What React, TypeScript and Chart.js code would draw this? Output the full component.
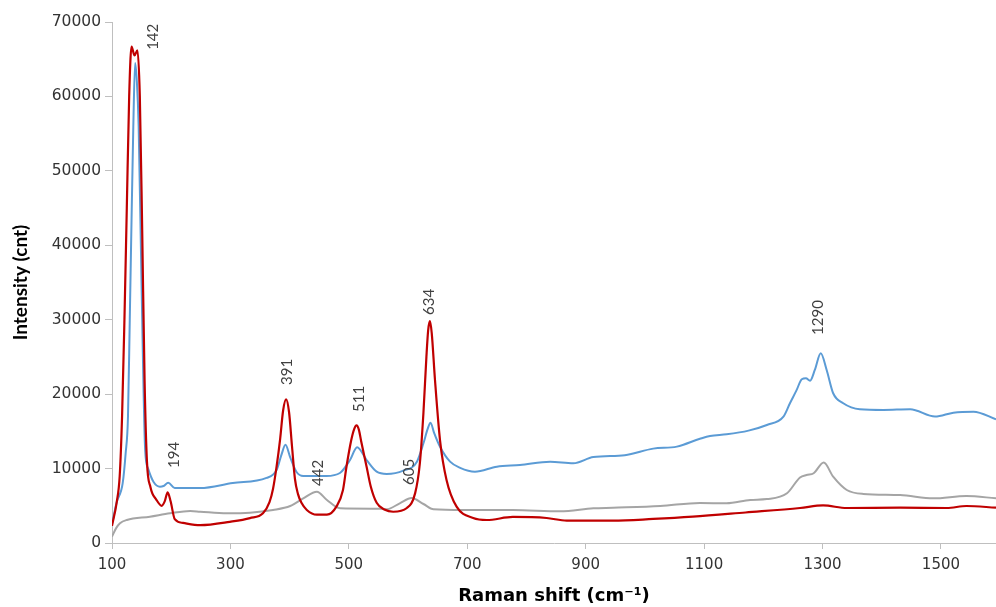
import React, { useEffect, useRef } from "react";
import { Chart, registerables } from "chart.js";

Chart.register(...registerables);

const xTicks = [100, 300, 500, 700, 900, 1100, 1300, 1500];

const redX = [100, 108, 113, 117, 121, 125, 129, 133, 138, 143, 147, 151, 155, 159, 165, 175, 184, 189, 194, 199, 206, 220, 249, 299, 333, 355, 366, 372, 378, 384, 389, 394, 399, 404, 409, 414, 420, 429, 446, 463, 479, 490, 496, 504, 509, 513, 517, 521, 530, 537, 547, 560, 575, 598, 612, 620, 626, 631, 634, 637, 640, 645.5, 654, 665, 682, 710, 733, 777, 834, 868, 946, 1014, 1081, 1170, 1262, 1301, 1341, 1431, 1510, 1543, 1593];
const redY = [2300, 5500, 9000, 17000, 30000, 45000, 60000, 66700, 65500, 66200, 60000, 42000, 22000, 11000, 7500, 5800, 5000, 5600, 6800, 5600, 3200, 2700, 2400, 2850, 3350, 4000, 5500, 7300, 10300, 14000, 17800, 19300, 17600, 13000, 8600, 6600, 5400, 4440, 3800, 3800, 4880, 7100, 10250, 13800, 15300, 15800, 15200, 13600, 10250, 7600, 5400, 4500, 4200, 4700, 6700, 10750, 17500, 25000, 28600, 29800, 28200, 21900, 13800, 8470, 4880, 3360, 3090, 3500, 3360, 3000, 3000, 3230, 3540, 4100, 4700, 5050, 4700, 4740, 4700, 4970, 4740];

const blueX = [100, 108, 118, 123, 127, 130, 133, 136, 139, 142, 145, 150, 156, 161, 170, 181, 187, 195, 206, 249, 304, 361, 378, 386, 393, 401, 412, 423, 462, 485, 502, 514, 530, 547, 564, 592, 615, 626, 633, 638, 644, 654, 671, 688, 713, 750, 789, 840, 879, 913, 966, 1014, 1054, 1093, 1110, 1138, 1175, 1206, 1234, 1245, 1256, 1265, 1272, 1279, 1287, 1297, 1307, 1318, 1335, 1363, 1403, 1448, 1490, 1521, 1555, 1593];
const blueY = [2500, 5500, 8000, 12000, 17000, 30000, 43400, 56000, 64500, 62000, 56000, 34400, 12500, 10000, 8240, 7570, 7660, 8100, 7390, 7390, 8060, 8740, 9800, 11800, 13200, 11500, 9500, 9000, 9000, 9400, 11150, 12860, 11150, 9580, 9270, 9720, 10930, 13400, 15300, 16170, 14800, 12940, 10930, 10100, 9580, 10250, 10480, 10930, 10710, 11550, 11800, 12680, 12950, 14000, 14380, 14600, 15100, 15860, 16980, 18780, 20500, 22000, 22130, 21810, 23250, 25500, 23250, 20120, 18780, 17970, 17880, 17970, 16980, 17510, 17650, 16620];

const grayX = [100, 107, 113.5, 125, 164, 198, 232, 249, 294, 333, 372, 401, 423, 446, 463, 485, 553, 564, 586, 606, 626, 643, 693, 777, 857, 913, 946, 1026, 1093, 1138, 1178, 1206, 1240, 1262, 1273, 1285, 1302, 1318, 1341, 1369, 1431, 1487, 1543, 1593];
const grayY = [850, 2000, 2650, 3090, 3540, 3990, 4300, 4210, 3990, 4070, 4440, 4970, 6000, 6900, 5780, 4660, 4600, 4530, 5330, 6050, 5240, 4530, 4440, 4440, 4250, 4660, 4740, 4970, 5380, 5330, 5780, 5900, 6680, 8800, 9140, 9370, 10800, 8910, 7120, 6590, 6450, 6000, 6320, 6000];

const peakLabels = ["142", "194", "391", "442", "511", "605", "634", "1290"];
const peakLabelX = [169, 205, 396, 448, 517, 602, 635.5, 1292];
const peakLabelY = [66260, 10080, 21240, 7660, 17600, 7800, 30650, 27960];

const FONT = "Lato, 'Open Sans', sans-serif";
const WIDE = "'DejaVu Sans', 'Open Sans', sans-serif";

const pairs = (xs: number[], ys: number[]) => xs.map((x, i) => ({ x, y: ys[i] }));

const peakLabelPlugin = {
  id: "peakLabels",
  afterDatasetsDraw(chart: any) {
    const { ctx, scales } = chart;
    ctx.save();
    ctx.font = `15px ${FONT}`;
    ctx.fillStyle = "#404040";
    ctx.textAlign = "left";
    ctx.textBaseline = "middle";
    peakLabels.forEach((t, i) => {
      const px = scales.x.getPixelForValue(peakLabelX[i]);
      const py = scales.y.getPixelForValue(peakLabelY[i]);
      ctx.save();
      ctx.translate(px, py);
      ctx.rotate(-Math.PI / 2);
      ctx.fillText(t, 0, 0);
      ctx.restore();
    });
    ctx.restore();
  },
};

export default function App() {
  const ref = useRef<HTMLCanvasElement | null>(null);
  useEffect(() => {
    if (!ref.current) return;
    const lineDs = (label: string, xs: number[], ys: number[], color: string, width: number) => ({
      label,
      data: pairs(xs, ys),
      borderColor: color,
      backgroundColor: color,
      borderWidth: width,
      pointRadius: 0,
      fill: false,
      cubicInterpolationMode: "monotone" as const,
    });
    const chart = new Chart(ref.current, {
      type: "line",
      data: {
        datasets: [
          lineDs("red", redX, redY, "#C00000", 2.2),
          lineDs("blue", blueX, blueY, "#5B9BD5", 2),
          lineDs("gray", grayX, grayY, "#A5A5A5", 2),
        ],
      },
      options: {
        animation: false,
        responsive: false,
        maintainAspectRatio: false,
        layout: { padding: { top: 22, right: 0, left: 0, bottom: 0 } },
        plugins: { legend: { display: false }, tooltip: { enabled: false } },
        scales: {
          x: {
            type: "linear",
            min: 100,
            max: 1593,
            afterBuildTicks: (scale: any) => {
              scale.ticks = xTicks.map((v) => ({ value: v }));
            },
            afterFit: (scale: any) => {
              scale.height = 64;
            },
            grid: { drawOnChartArea: false, drawTicks: true, tickLength: 6, color: "#BFBFBF" },
            border: { color: "#BFBFBF", width: 1 },
            ticks: {
              color: "#333333",
              font: { family: WIDE, size: 15 },
              padding: 7,
              maxRotation: 0,
              autoSkip: false,
              callback: (v: any) => String(v),
            },
            title: {
              display: true,
              text: "Raman shift (cm⁻¹)",
              color: "#000",
              font: { family: WIDE, size: 18, weight: "bold" },
              padding: { top: 0, bottom: 0 },
            },
          },
          y: {
            min: 0,
            max: 70000,
            afterFit: (scale: any) => {
              scale.width = 112;
            },
            grid: { drawOnChartArea: false, drawTicks: true, tickLength: 7, color: "#BFBFBF" },
            border: { color: "#BFBFBF", width: 1 },
            ticks: {
              stepSize: 10000,
              color: "#333333",
              font: { family: WIDE, size: 15.5 },
              padding: 4,
              callback: (v: any) => String(v),
            },
            title: {
              display: true,
              text: "Intensity (cnt)",
              color: "#000",
              font: { family: FONT, size: 19, weight: "bold" },
              padding: { top: 9, bottom: 0 },
            },
          },
        },
      },
      plugins: [peakLabelPlugin],
    });
    return () => chart.destroy();
  }, []);
  return (
    <div style={{ position: "fixed", left: 0, top: 0, width: 996, height: 607, background: "#fff" }}>
      <canvas ref={ref} width={996} height={607} style={{ width: 996, height: 607, display: "block" }} />
    </div>
  );
}
